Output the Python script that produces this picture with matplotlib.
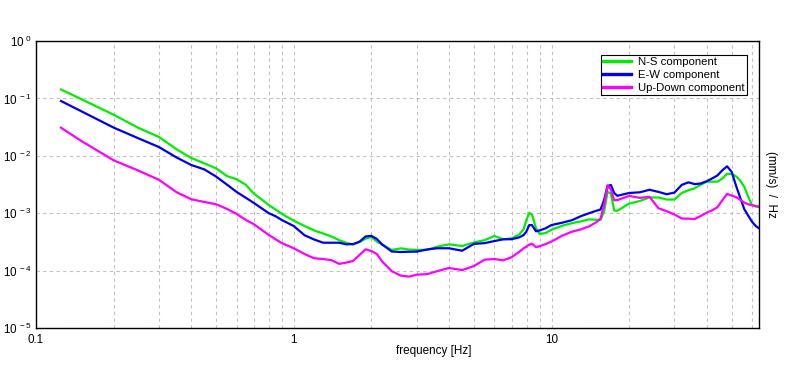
import numpy as np
import matplotlib
matplotlib.use("Agg")
import matplotlib.pyplot as plt
from matplotlib.ticker import FixedLocator, FixedFormatter, NullFormatter, NullLocator

plt.rcParams['font.family'] = ['Liberation Sans', 'DejaVu Sans']
plt.rcParams['mathtext.fontset'] = 'custom'
plt.rcParams['mathtext.rm'] = 'Liberation Sans'
plt.rcParams['mathtext.it'] = 'Liberation Sans'

# spectra (frequency in Hz, amplitude in (mm/s)/Hz)
freq = [0.125, 0.15, 0.2, 0.25, 0.3, 0.35, 0.4, 0.45, 0.5, 0.55,
        0.6, 0.65, 0.7, 0.75, 0.8, 0.85, 0.9, 1.0, 1.1, 1.2,
        1.3, 1.4, 1.5, 1.6, 1.7, 1.8, 1.9, 2.0, 2.1, 2.2,
        2.4, 2.6, 2.8, 3.0, 3.3, 3.6, 4.0, 4.5, 5.0, 5.5,
        6.0, 6.5, 7.0, 7.5, 7.8, 8.0, 8.2, 8.4, 8.7, 9.0,
        9.5, 10, 11, 12, 13, 14, 15, 15.5, 16, 16.5,
        17, 17.5, 18, 20, 22, 24, 26, 28, 30, 32,
        34, 36, 38, 40, 42, 44, 46, 48, 50, 52,
        54, 56, 58, 60, 62, 64]

ns = [0.143, 0.0968, 0.052, 0.0305, 0.0213, 0.0131, 0.00916, 0.00738, 0.00605, 0.00445,
      0.0039, 0.00315, 0.0022, 0.00174, 0.00139, 0.00116, 0.00097, 0.00074, 0.0006, 0.0005,
      0.000443, 0.000393, 0.000339, 0.000305, 0.000284, 0.000315, 0.000361, 0.000385, 0.000321, 0.000284,
      0.000229, 0.000244, 0.000233, 0.000229, 0.000231, 0.00026, 0.000287, 0.000268, 0.000309, 0.000339,
      0.000401, 0.000351, 0.000364, 0.000426, 0.000531, 0.000776, 0.00101, 0.00095, 0.000552, 0.000435,
      0.000452, 0.000516, 0.000605, 0.00067, 0.00072, 0.00078, 0.000767, 0.000765, 0.00107, 0.00236,
      0.0022, 0.00112, 0.0011, 0.00147, 0.00163, 0.00188, 0.00188, 0.00173, 0.00173, 0.00225,
      0.00251, 0.00273, 0.00314, 0.00354, 0.00354, 0.00354, 0.00403, 0.00488, 0.00482, 0.00438,
      0.0037, 0.00286, 0.00191, 0.00138, 0.00131, 0.00128]

ew = [0.0901, 0.0596, 0.031, 0.0201, 0.0142, 0.00942, 0.00692, 0.00579, 0.00434, 0.00316,
      0.00235, 0.00187, 0.00151, 0.00122, 0.001, 0.000887, 0.000758, 0.000598, 0.000414, 0.000348,
      0.000306, 0.000306, 0.000306, 0.000287, 0.00029, 0.000319, 0.000393, 0.000403, 0.000356, 0.000287,
      0.000215, 0.000211, 0.000213, 0.000214, 0.000234, 0.000245, 0.000245, 0.000222, 0.000292, 0.000301,
      0.000327, 0.000351, 0.000352, 0.00038, 0.000417, 0.000485, 0.000622, 0.00062, 0.000485, 0.0005,
      0.000548, 0.000622, 0.000683, 0.000755, 0.000887, 0.001, 0.00111, 0.00116, 0.0017, 0.00298,
      0.0031, 0.00225, 0.00201, 0.00225, 0.00231, 0.00256, 0.00235, 0.00214, 0.00229, 0.00311,
      0.00345, 0.0032, 0.0033, 0.00361, 0.00403, 0.00454, 0.00559, 0.00656, 0.00526, 0.003,
      0.00185, 0.00117, 0.000902, 0.000708, 0.000598, 0.000541]

ud = [0.0309, 0.0181, 0.00835, 0.0055, 0.00382, 0.00234, 0.00175, 0.00157, 0.00143, 0.00119,
      0.00097, 0.00077, 0.000643, 0.000514, 0.000417, 0.000352, 0.0003, 0.000245, 0.000195, 0.000164,
      0.000159, 0.000152, 0.000131, 0.000138, 0.000147, 0.000188, 0.000235, 0.000219, 0.000195, 0.000145,
      9.77e-5, 8.18e-5, 7.86e-5, 8.49e-5, 8.69e-5, 9.77e-5, 0.000111, 0.000102, 0.00012, 0.000155,
      0.000159, 0.000151, 0.000171, 0.000213, 0.000245, 0.000262, 0.000283, 0.000294, 0.000256, 0.000266,
      0.000291, 0.00032, 0.000406, 0.000476, 0.000522, 0.000589, 0.000708, 0.000809, 0.00139, 0.00306,
      0.00257, 0.00168, 0.00169, 0.002, 0.00185, 0.00193, 0.00122, 0.00108, 0.00095, 0.000809,
      0.000802, 0.000793, 0.000898, 0.00102, 0.00112, 0.00127, 0.00168, 0.00217, 0.00203, 0.00191,
      0.00171, 0.00153, 0.00143, 0.00138, 0.00133, 0.0013]

labels = ["N-S component", "E-W component", "Up-Down component"]
colors = ["#00ee00", "#0000ee", "#ff00ff"]

x_major = [0.1, 1, 10]
x_labels = ["0.1", "1", "10"]
x_minor = [m * d for d in (0.1, 1, 10) for m in range(2, 10) if m * d < 64]
y_ticks = [1e-5, 1e-4, 1e-3, 1e-2, 1e-1, 1]
y_labels = [r"$\mathregular{10^{\ %d}}$" % e for e in (-5, -4, -3, -2, -1, 0)]

fs = 8.4
fig = plt.figure(figsize=(7.96, 3.70), dpi=100)
ax = fig.add_axes([36 / 796, 1 - 328 / 370, 723.3 / 796, 287 / 370])

for vals, lab, col in zip([ns, ew, ud], labels, colors):
    ax.plot(freq, vals, color=col, lw=1.6, label=lab)

ax.set_xscale("log")
ax.set_yscale("log")
ax.set_xlim(0.1, 64)
ax.set_ylim(1e-5, 1)

ax.xaxis.set_major_locator(FixedLocator(x_major))
ax.xaxis.set_major_formatter(FixedFormatter(x_labels))
ax.xaxis.set_minor_locator(FixedLocator(x_minor))
ax.xaxis.set_minor_formatter(NullFormatter())
ax.yaxis.set_major_locator(FixedLocator(y_ticks))
ax.yaxis.set_major_formatter(FixedFormatter(y_labels))
ax.yaxis.set_minor_locator(NullLocator())
ax.tick_params(which="both", length=0, labelsize=fs)
ax.tick_params(axis="x", pad=4)
ax.tick_params(axis="y", pad=3)

ax.set_axisbelow(True)
gkw = dict(color="#c0c0c0", lw=0.8, ls=(0, (3, 3)))
ax.grid(True, which="both", axis="x", **gkw)
ax.grid(True, which="major", axis="y", **gkw)
for s in ax.spines.values():
    s.set_color("black")
    s.set_linewidth(1.0)

ax.set_xlabel("frequency [Hz]", fontsize=fs)
ax.xaxis.set_label_coords(0.55, -0.06)
ax.text(1.016, 0.5, "(mm/s)  /  Hz", rotation=270, transform=ax.transAxes,
        ha="center", va="center", fontsize=fs)

leg = ax.legend(loc="upper right", bbox_to_anchor=(0.983, 0.951), borderaxespad=0,
                fontsize=8.2, fancybox=False, framealpha=1, edgecolor="black",
                handlelength=2.5, handletextpad=0.6, labelspacing=0.25, borderpad=0.2)
leg.get_frame().set_linewidth(0.8)
for h in leg.get_lines():
    h.set_linewidth(2.4)

fig.savefig("out.png", dpi=100)
